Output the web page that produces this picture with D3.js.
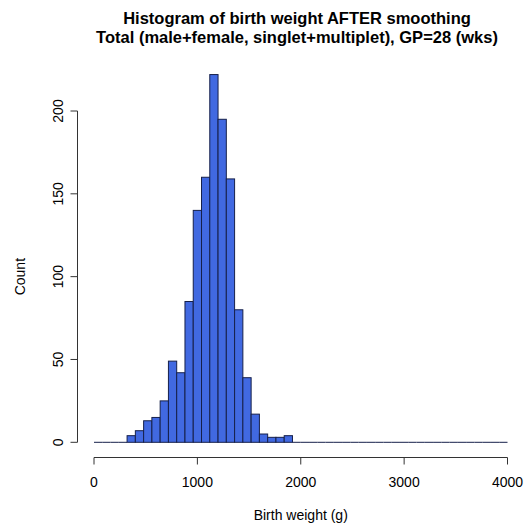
<!DOCTYPE html>
<html>
<head>
<meta charset="utf-8">
<script src="https://cdn.jsdelivr.net/npm/d3@7"></script>
<style>
  body { margin: 0; background: #fff; }
  text { font-family: "Liberation Sans", Arial, sans-serif; fill: #000; }
</style>
</head>
<body>
<div id="chart"></div>
<script>
// bins of 80 g from 0 to 4000; counts
const binWidth = 80;
const binStarts = d3.range(0, 4000, binWidth);
const nonZeroStart = 320;
const nonZeroCounts = [4, 7, 13, 15, 25, 49, 42, 85, 140, 160, 222, 195, 159, 80, 39, 17, 5, 3, 3, 4];
const xTicks = [0, 1000, 2000, 3000, 4000];
const yTicks = [0, 50, 100, 150, 200];

const bins = binStarts.map(x0 => {
  const i = (x0 - nonZeroStart) / binWidth;
  return { x0, x1: x0 + binWidth, count: i >= 0 && i < nonZeroCounts.length ? nonZeroCounts[i] : 0 };
});

const width = 528, height = 524;
const svg = d3.select("#chart").append("svg")
  .attr("width", width)
  .attr("height", height);

const x = d3.scaleLinear().domain([0, 4000]).range([94, 507.5]);
const y = d3.scaleLinear().domain([0, 200]).range([442.3, 111]);

// zero-count bins show as a flat line, like R
svg.append("g")
  .selectAll("line")
  .data(bins.filter(d => d.count === 0))
  .join("line")
  .attr("x1", d => x(d.x0))
  .attr("x2", d => x(d.x1))
  .attr("y1", y(0))
  .attr("y2", y(0))
  .attr("stroke", "#16204a");

svg.append("g")
  .selectAll("rect")
  .data(bins.filter(d => d.count > 0))
  .join("rect")
  .attr("x", d => x(d.x0))
  .attr("y", d => y(d.count))
  .attr("width", d => x(d.x1) - x(d.x0))
  .attr("height", d => y(0) - y(d.count))
  .attr("fill", "#4169e1")
  .attr("stroke", "#16204a")
  .attr("stroke-width", 1);

// x axis
const xAxis = svg.append("g").attr("transform", "translate(0,457.5)");
xAxis.append("line")
  .attr("x1", x(0)).attr("x2", x(4000))
  .attr("stroke", "#333");
xAxis.selectAll(".tick")
  .data(xTicks)
  .join("g")
  .each(function(d) {
    const g = d3.select(this);
    g.append("line").attr("x1", x(d)).attr("x2", x(d)).attr("y1", 0).attr("y2", 7).attr("stroke", "#333");
    g.append("text").attr("x", x(d)).attr("y", 29).attr("text-anchor", "middle")
      .attr("font-size", 14).text(d);
  });

// y axis
const yAxis = svg.append("g").attr("transform", "translate(77.5,0)");
yAxis.append("line")
  .attr("y1", y(0)).attr("y2", y(200))
  .attr("stroke", "#333");
yAxis.selectAll(".tick")
  .data(yTicks)
  .join("g")
  .each(function(d) {
    const g = d3.select(this);
    g.append("line").attr("x1", 0).attr("x2", -7).attr("y1", y(d)).attr("y2", y(d)).attr("stroke", "#333");
    g.append("text")
      .attr("transform", `translate(-15,${y(d)}) rotate(-90)`)
      .attr("text-anchor", "middle")
      .attr("font-size", 14).text(d);
  });

// labels
svg.append("text")
  .attr("x", x(2000)).attr("y", 520)
  .attr("text-anchor", "middle").attr("font-size", 14)
  .text("Birth weight (g)");

svg.append("text")
  .attr("transform", `translate(25,${y(100)}) rotate(-90)`)
  .attr("text-anchor", "middle").attr("font-size", 14)
  .text("Count");

const title = ["Histogram of birth weight AFTER smoothing",
  "Total (male+female, singlet+multiplet), GP=28 (wks)"];
svg.append("g").selectAll("text")
  .data(title)
  .join("text")
  .attr("x", 297)
  .attr("y", (d, i) => 24 + i * 19)
  .attr("text-anchor", "middle")
  .attr("font-size", 16.5)
  .attr("font-weight", "bold")
  .text(d => d);
</script>
</body>
</html>
